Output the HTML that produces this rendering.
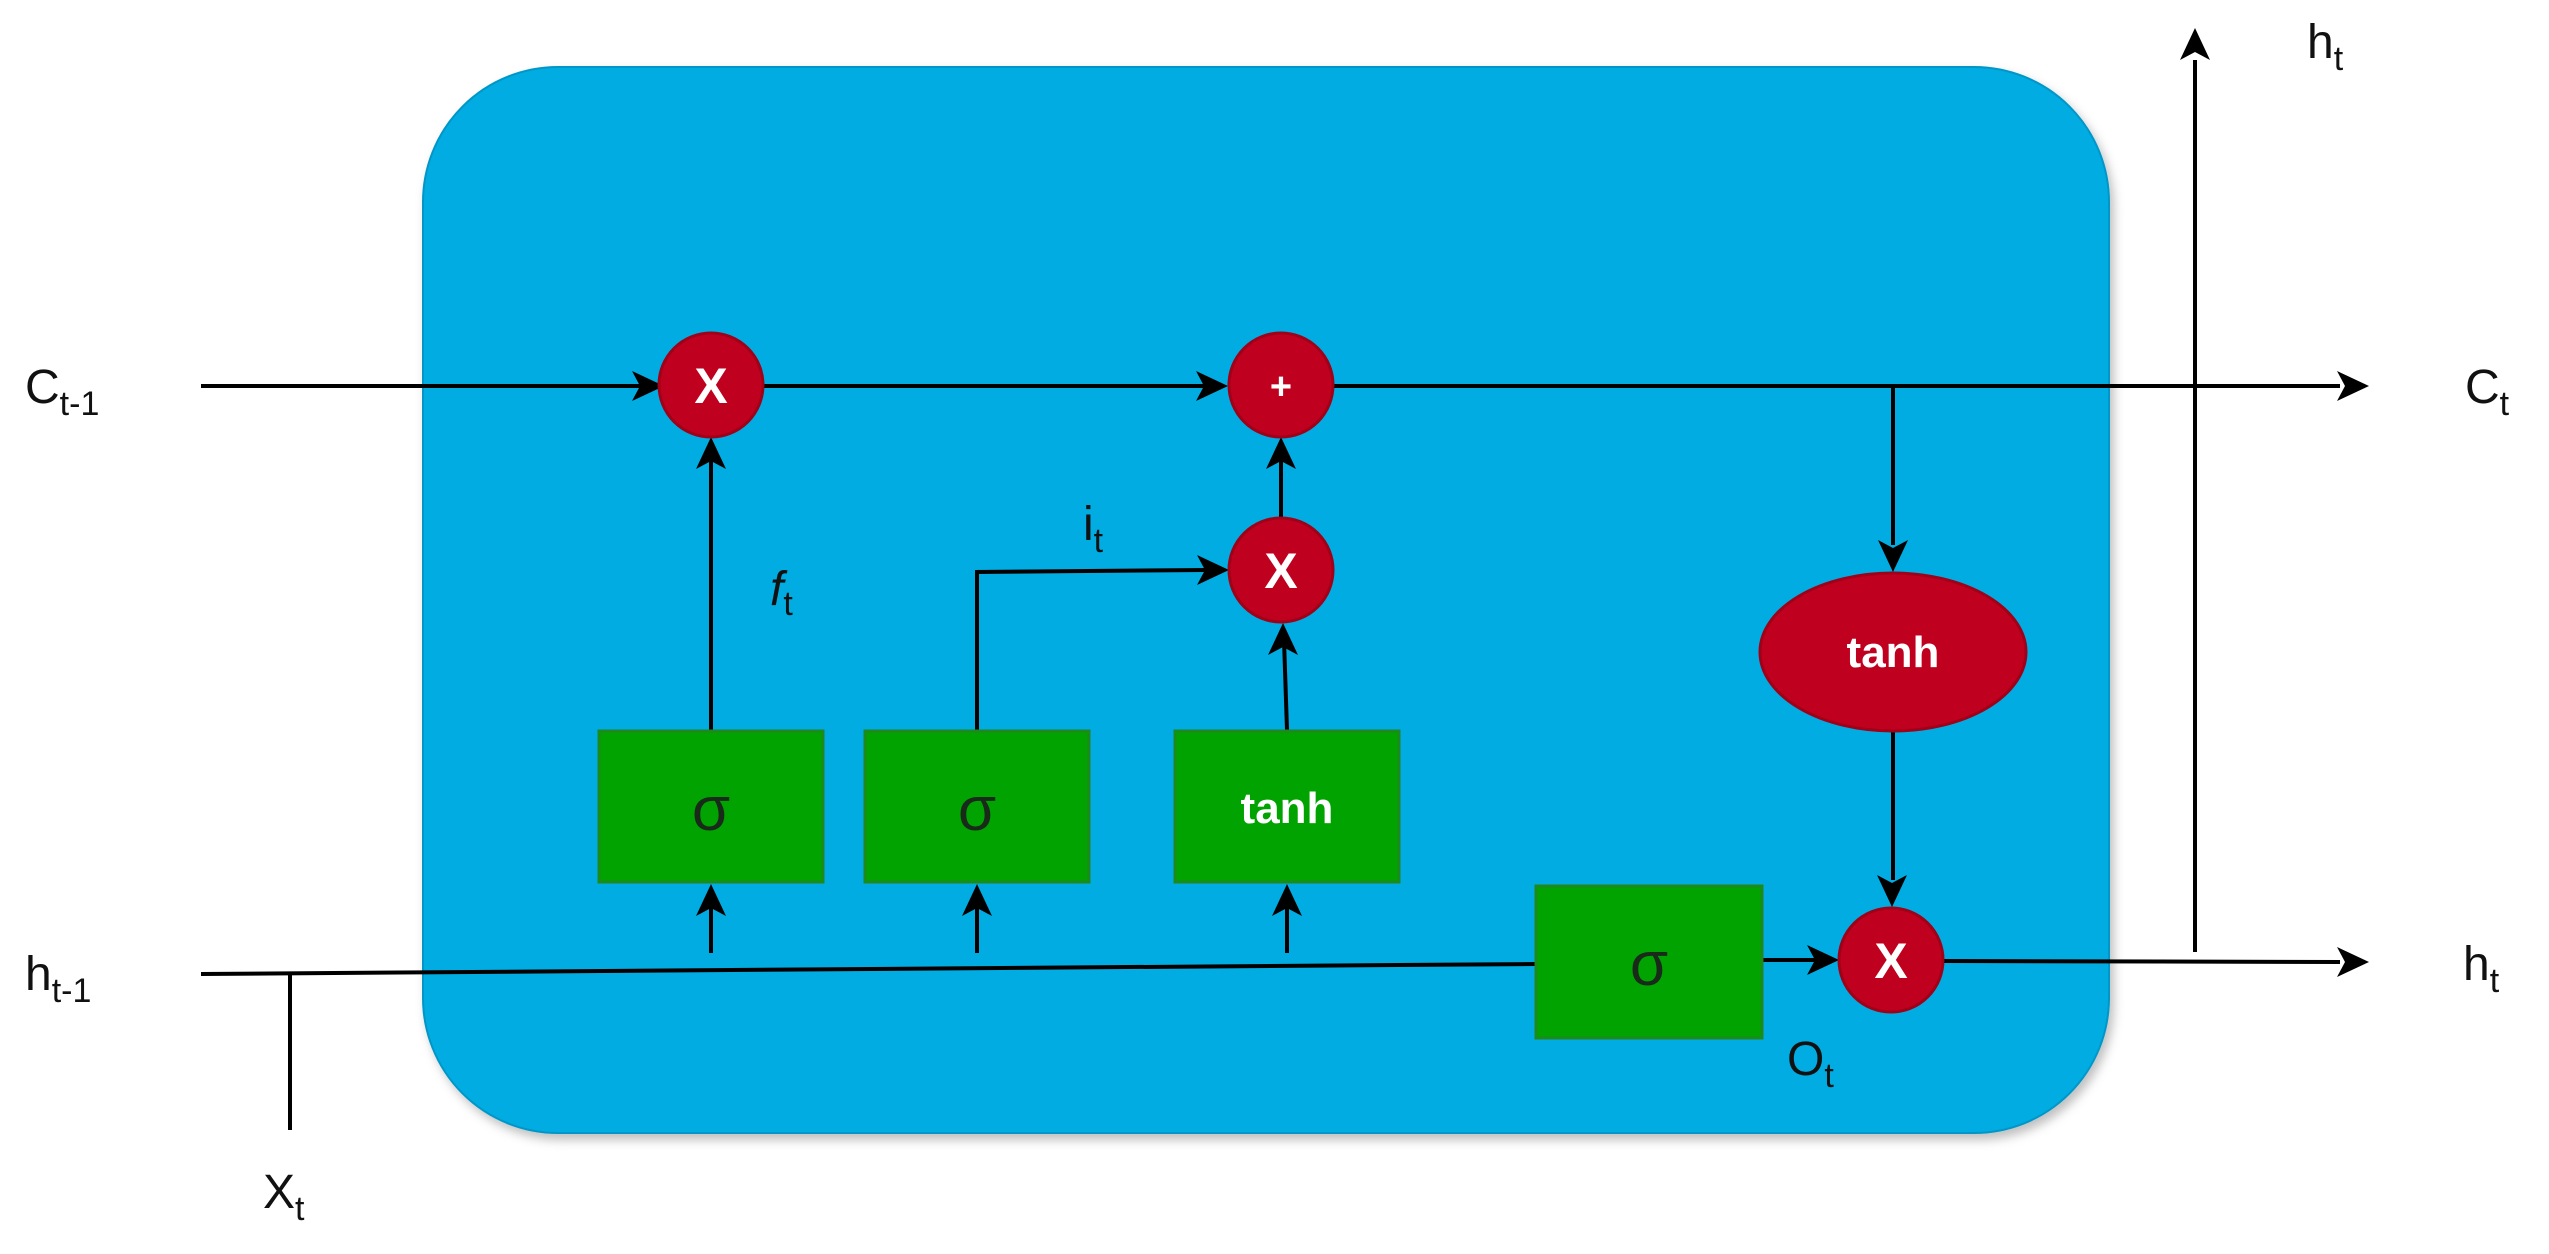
<!DOCTYPE html>
<html><head><meta charset="utf-8"><style>
html,body{margin:0;padding:0;background:#fff;}
svg{display:block}
.lbl{font-family:"Liberation Sans",sans-serif;font-size:48px;fill:#111}
.sub{font-size:34px}
.w{font-family:"Liberation Sans",sans-serif;font-weight:bold;fill:#fff}
.sig{font-family:"Liberation Sans",sans-serif;font-size:62px;fill:#1a2a1a}
</style></head><body>
<svg width="2549" height="1254" viewBox="0 0 2549 1254" xmlns="http://www.w3.org/2000/svg">
<defs>
<filter id="sh" x="-5%" y="-5%" width="110%" height="115%"><feDropShadow dx="4" dy="6" stdDeviation="5" flood-color="#000" flood-opacity="0.25"/></filter>
</defs>
<rect x="423" y="67" width="1686" height="1066" rx="135" ry="135" fill="#00ace1" stroke="#0096c8" stroke-width="2" filter="url(#sh)"/>
<g stroke="#000" stroke-width="4" fill="none">
<line x1="201" y1="386" x2="640" y2="386"/>
<line x1="764" y1="386" x2="1210" y2="386"/>
<line x1="1334" y1="386" x2="2340" y2="386"/>
<path d="M201 974 L1536 964"/>
<line x1="290" y1="974" x2="290" y2="1130"/>
<line x1="711" y1="953" x2="711" y2="900"/>
<line x1="977" y1="953" x2="977" y2="900"/>
<line x1="1287" y1="953" x2="1287" y2="900"/>
<line x1="711" y1="730" x2="711" y2="455"/>
<path d="M977 730 L977 572 L1205 570"/>
<path d="M1287 730 L1284 640"/>
<line x1="1281" y1="517" x2="1281" y2="455"/>
<line x1="1893" y1="386" x2="1893" y2="545"/>
<line x1="1893" y1="732" x2="1893" y2="880"/>
<line x1="1762" y1="960" x2="1815" y2="960"/>
<line x1="1943" y1="961" x2="2340" y2="962"/>
<line x1="2195" y1="952" x2="2195" y2="60"/>
</g>
<g fill="#000">
<polygon points="664,386 632,371 640,386 632,401"/>
<polygon points="1228,386 1196,371 1204,386 1196,401"/>
<polygon points="2369,386 2337,371 2345,386 2337,401"/>
<polygon points="1229,570 1197,555 1205,570 1197,585"/>
<polygon points="1839,960 1807,945 1815,960 1807,975"/>
<polygon points="2369,962 2337,947 2345,962 2337,977"/>
<polygon points="711,884 696,916 711,908 726,916"/>
<polygon points="977,884 962,916 977,908 992,916"/>
<polygon points="1287,884 1272,916 1287,908 1302,916"/>
<polygon points="711,437 696,469 711,461 726,469"/>
<polygon points="1281,437 1266,469 1281,461 1296,469"/>
<polygon points="1283,623 1268,655 1283,647 1298,655"/>
<polygon points="2195,28 2180,60 2195,52 2210,60"/>
<polygon points="1893,572 1878,540 1893,548 1908,540"/>
<polygon points="1892,907 1877,875 1892,883 1907,875"/>
</g>
<g fill="#00a300" stroke="#1e8a1e" stroke-width="3">
<rect x="599" y="731" width="224" height="151"/>
<rect x="865" y="731" width="224" height="151"/>
<rect x="1175" y="731" width="224" height="151"/>
<rect x="1536" y="886" width="226" height="152"/>
</g>
<text class="sig" x="711" y="830" text-anchor="middle">σ</text>
<text class="sig" x="977" y="830" text-anchor="middle">σ</text>
<text class="sig" x="1649" y="985" text-anchor="middle">σ</text>
<text class="w" x="1287" y="823" font-size="44" text-anchor="middle">tanh</text>
<g fill="#c0001f" stroke="#a00018" stroke-width="3">
<circle cx="711" cy="385" r="52"/>
<circle cx="1281" cy="385" r="52"/>
<circle cx="1281" cy="570" r="52"/>
<circle cx="1891" cy="960" r="52"/>
<ellipse cx="1893" cy="652" rx="133" ry="79"/>
</g>
<text class="w" x="711" y="403" font-size="50" text-anchor="middle">X</text>
<text class="w" x="1281" y="399" font-size="38" text-anchor="middle">+</text>
<text class="w" x="1281" y="588" font-size="50" text-anchor="middle">X</text>
<text class="w" x="1891" y="978" font-size="50" text-anchor="middle">X</text>
<text class="w" x="1893" y="667" font-size="44" text-anchor="middle">tanh</text>
<text class="lbl" x="25" y="403">C<tspan class="sub" dy="12">t-1</tspan></text>
<text class="lbl" x="25" y="990">h<tspan class="sub" dy="12">t-1</tspan></text>
<text class="lbl" x="263" y="1208">X<tspan class="sub" dy="12">t</tspan></text>
<text class="lbl" x="2465" y="403">C<tspan class="sub" dy="12">t</tspan></text>
<text class="lbl" x="2463" y="980">h<tspan class="sub" dy="12">t</tspan></text>
<text class="lbl" x="2307" y="58">h<tspan class="sub" dy="12">t</tspan></text>
<text class="lbl" x="1787" y="1075">O<tspan class="sub" dy="12">t</tspan></text>
<text class="lbl" x="1083" y="540">i<tspan class="sub" dy="12">t</tspan></text>
<text class="lbl" x="770" y="605" font-style="italic" font-family="Liberation Serif,serif">f<tspan class="sub" dy="10" font-style="normal">t</tspan></text>
</svg>
</body></html>
